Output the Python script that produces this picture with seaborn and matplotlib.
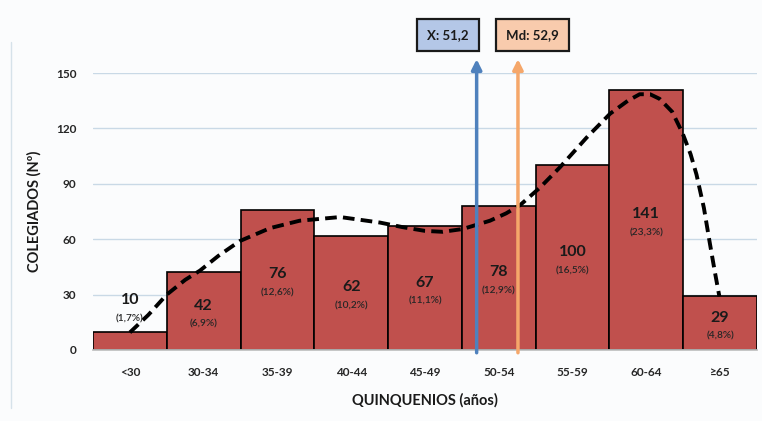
import matplotlib
matplotlib.use("Agg")
import matplotlib.pyplot as plt
import seaborn as sns
import pandas as pd

categories = ["<30", "30-34", "35-39", "40-44", "45-49", "50-54", "55-59", "60-64", "≥65"]
counts = [10, 42, 76, 62, 67, 78, 100, 141, 29]
percents = ["(1,7%)", "(6,9%)", "(12,6%)", "(10,2%)", "(11,1%)", "(12,9%)", "(16,5%)", "(23,3%)", "(4,8%)"]
yticks = [0, 30, 60, 90, 120, 150]

# dashed trend curve (x in bar-index units)
curve_x = [0.0, 0.25, 0.5, 0.75, 0.95, 1.2, 1.49, 1.9, 2.3, 2.85, 3.39, 3.7, 4.0, 4.24,
           4.51, 4.88, 5.1, 5.29, 5.56, 5.83, 6.19, 6.51, 6.75, 6.91, 7.05, 7.18, 7.35,
           7.49, 7.6, 7.68, 7.78, 7.86, 7.93, 7.99]
curve_y = [9.5, 19, 30, 38, 43, 51, 59, 66, 70, 72, 69, 66.5, 64.5, 64, 65.5, 70, 74,
           78.5, 88, 99, 115, 128, 135, 138.5, 138.5, 136, 129, 117.5, 106, 95, 77, 58,
           42, 29]

mean_label = "X: 51,2"
median_label = "Md: 52,9"
mean_pos = 4.70
median_pos = 5.26

df = pd.DataFrame({"cat": categories, "n": counts})

sns.set_theme(style="white")
plt.rcParams["font.family"] = ["Lato", "DejaVu Sans"]

fig = plt.figure(figsize=(7.62, 4.21), dpi=100)
fig.patch.set_facecolor("#fbfcfd")
ax = fig.add_axes([93 / 762, 1 - 350 / 421, (757 - 93) / 762, (350 - 73) / 421])
ax.set_facecolor("#fbfcfd")

sns.barplot(data=df, x="cat", y="n", color="#c0504d", saturation=1, width=1.0,
            edgecolor="black", linewidth=1.2, ax=ax, zorder=2)

for y in yticks[1:]:
    ax.axhline(y, color="#c9d9e6", lw=1.0, zorder=0)

ax.plot(curve_x, curve_y, color="black", lw=2.8, ls=(0, (3, 1.6)), zorder=4,
        solid_capstyle="butt", dash_capstyle="butt")

for i, (v, p) in enumerate(zip(counts, percents)):
    yv = 27 if i == 0 else v / 2 + 3
    ax.text(i, yv, str(v), ha="center", va="center", fontsize=11.5, fontweight="bold",
            color="#1a1a1a", zorder=5)
    ax.annotate(p, (i, yv), xytext=(0, -13.5), textcoords="offset points", ha="center",
                va="center", fontsize=7.3, fontweight="semibold", color="#262626", zorder=5)

ax.set_xlim(-0.5, 8.5)
ax.set_ylim(0, 150)
ax.set_yticks(yticks)
ax.set_yticklabels([str(t) for t in yticks], fontsize=8.5, fontweight="bold", color="#262626")
ax.tick_params(axis="y", length=0, pad=12)
ax.tick_params(axis="x", length=0, pad=12, labelsize=8.5)
for lab in ax.get_xticklabels():
    lab.set_fontweight("bold")
    lab.set_color("#262626")
for s in ["left", "right", "top"]:
    ax.spines[s].set_visible(False)
ax.spines["bottom"].set_color("#bfbfbf")

ax.set_xlabel("QUINQUENIOS (años)", fontsize=10.5, fontweight="bold", color="#1a1a1a", labelpad=11)
ax.set_ylabel("COLEGIADOS (Nº)", fontsize=10.5, fontweight="bold", color="#1a1a1a", labelpad=10)

# arrows
ax.annotate("", xy=(mean_pos, 159), xytext=(mean_pos, -3), annotation_clip=False,
            arrowprops=dict(arrowstyle="-|>,head_length=0.5,head_width=0.25",
                            color="#4f81bd", lw=2.5), zorder=6)
ax.annotate("", xy=(median_pos, 159), xytext=(median_pos, -3), annotation_clip=False,
            arrowprops=dict(arrowstyle="-|>,head_length=0.5,head_width=0.25",
                            color="#f5a76a", lw=2.5), zorder=6)

ax.text(4.31, 170.5, mean_label, ha="center", va="center", fontsize=9.5, fontweight="bold",
        color="#1a1a1a", clip_on=False, zorder=7,
        bbox=dict(boxstyle="square,pad=0.75", fc="#b4c7e7", ec="#1a1a1a", lw=1.6))
ax.text(5.46, 170.5, median_label, ha="center", va="center", fontsize=9.5, fontweight="bold",
        color="#1a1a1a", clip_on=False, zorder=7,
        bbox=dict(boxstyle="square,pad=0.75", fc="#f8cbad", ec="#1a1a1a", lw=1.6))

fig.add_artist(plt.Line2D([11 / 762, 11 / 762], [0.03, 0.9], color="#d6e2ea", lw=1))

fig.savefig("out.png", dpi=100, facecolor=fig.get_facecolor())
